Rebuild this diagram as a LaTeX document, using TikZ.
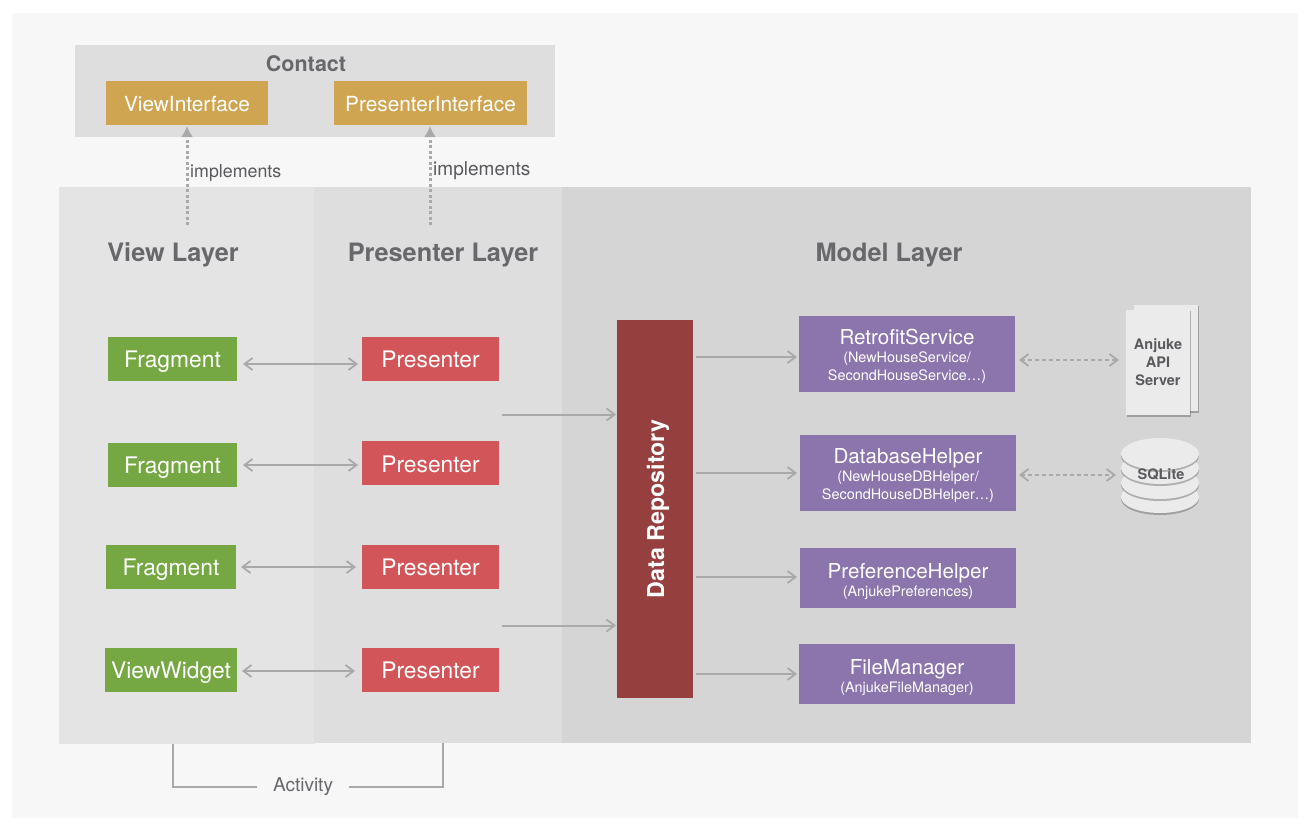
\documentclass[tikz,border=0pt]{standalone}
\usepackage{fontspec}
\setmainfont{TeX Gyre Heros}
\usetikzlibrary{arrows.meta}
\definecolor{bgc}{HTML}{F7F7F7}
\definecolor{viewc}{HTML}{E4E4E4}
\definecolor{presc}{HTML}{DEDEDE}
\definecolor{modc}{HTML}{D5D5D5}
\definecolor{greenc}{HTML}{75A842}
\definecolor{redc}{HTML}{D25659}
\definecolor{goldc}{HTML}{CFA552}
\definecolor{purplec}{HTML}{8C74AD}
\definecolor{repoc}{HTML}{963F3F}
\definecolor{linec}{HTML}{A9A9A9}
\definecolor{titlec}{HTML}{67676C}
\definecolor{labelc}{HTML}{5A5A5E}
\definecolor{pagec}{HTML}{EBEBEB}
\newcommand{\fsz}[1]{\fontsize{#1}{#1}\selectfont}
\newcommand{\bbx}[7][]{\node[#1,minimum width={(#5-#3)*1pt},minimum height={(#6-#4)*1pt}] (#2) at ({(#3+#5)/2},{(#4+#6)/2}) {#7};}
\newcommand{\ttl}[1]{\rule{0pt}{20pt}{\fsz{20.6}#1}}
\newcommand{\ttlb}[1]{\rule{0pt}{22pt}{\fsz{20.6}#1}}
\tikzset{
 x=1pt,y=-1pt,
 area/.style={rectangle,inner sep=0,outer sep=0},
 fbox/.style={area,text=white,font=\fsz{22.8},text height=16pt,text depth=0pt},
 greenbox/.style={fbox,fill=greenc},
 redbox/.style={fbox,fill=redc},
 goldbox/.style={fbox,fill=goldc,font=\fsz{20.8},text height=18pt},
 purplebox/.style={area,fill=purplec,text=white,align=center,font=\fontsize{14.4}{18}\selectfont},
 repobox/.style={area,fill=repoc,text=white},
 layertitle/.style={text=titlec,font=\bfseries\fsz{25.3},inner sep=0},
 wire/.style={draw=linec,line width=2pt,shorten >=1pt},
 onearrow/.style={wire,-{Straight Barb[length=8pt,width=12pt,line width=1.8pt]}},
 twoarrow/.style={wire,{Straight Barb[length=8pt,width=12pt,line width=1.8pt]}-{Straight Barb[length=8pt,width=12pt,line width=1.8pt]}},
 dasharrow/.style={twoarrow,dash pattern=on 4pt off 3pt},
 implarrow/.style={draw=linec,line width=3pt,dash pattern=on 3pt off 2.5pt,-{Latex[length=11pt,width=12pt]},shorten >=1pt},
 bracket/.style={draw=linec,line width=2pt},
 impltext/.style={text=labelc,font=\fsz{17.8},inner sep=0},
 page/.style={area,fill=pagec,text=labelc,align=center,font=\bfseries\fontsize{14.5}{18}\selectfont},
 pageshadow/.style={fill=black,opacity=.25},
}
\begin{document}
\begin{tikzpicture}
\useasboundingbox (0,0) rectangle (1316,832);
\fill[white] (0,0) rectangle (1316,832);
\fill[bgc] (12,13) rectangle (1298,818);
% layers
\bbx[area,fill=presc]{contact}{75}{45}{555}{137}{}
\bbx[area,fill=viewc]{viewl}{59}{187}{315}{744}{}
\bbx[area,fill=presc]{presl}{314}{187}{562}{743}{}
\bbx[area,fill=modc]{modl}{562}{187}{1251}{743}{}
\node[layertitle,font=\bfseries\fsz{21.5}] (ct) at (306,64) {Contact};
\node[layertitle] (vt) at (173,255) {View Layer};
\node[layertitle] (pt) at (443,255) {Presenter Layer};
\node[layertitle] (mt) at (889,255) {Model Layer};
% interfaces
\bbx[goldbox]{vi}{106}{81}{268}{125}{ViewInterface}
\bbx[goldbox]{pi}{334}{81}{527}{125}{PresenterInterface}
% views
\bbx[greenbox]{f1}{108}{337}{237}{381}{Fragment}
\bbx[greenbox]{f2}{108}{443}{237}{487}{Fragment}
\bbx[greenbox]{f3}{106}{545}{236}{589}{Fragment}
\bbx[greenbox]{w1}{105}{648}{237}{692}{ViewWidget}
% presenters
\bbx[redbox]{p1}{362}{337}{499}{381}{Presenter}
\bbx[redbox,text height=18pt]{p2}{362}{441}{499}{485}{Presenter}
\bbx[redbox]{p3}{362}{545}{499}{589}{Presenter}
\bbx[redbox]{p4}{362}{648}{499}{692}{Presenter}
% repository
\bbx[repobox]{repo}{617}{320}{693}{698}{}
\node[text=white,font=\bfseries\fsz{23.2},rotate=90,inner sep=0] (repotext) at ([xshift=3pt]repo.center) {Data Repository};
% services
\bbx[purplebox]{s1}{799}{316}{1015}{392}{\ttl{RetrofitService}\\(NewHouseService/\\SecondHouseService…)}
\bbx[purplebox]{s2}{800}{435}{1016}{511}{\ttl{DatabaseHelper}\\(NewHouseDBHelper/\\SecondHouseDBHelper…)}
\bbx[purplebox]{s3}{800}{548}{1016}{608}{\ttlb{PreferenceHelper}\\(AnjukePreferences)}
\bbx[purplebox]{s4}{799}{644}{1015}{704}{\ttlb{FileManager}\\(AnjukeFileManager)}
% server pages
\fill[pageshadow] (1135,306) rectangle (1199,413);
\bbx[page]{back}{1134}{305}{1198}{411}{}
\fill[pageshadow] (1127,311) rectangle (1191,417);
\bbx[page]{server}{1126}{310}{1190}{415}{Anjuke\\API\\Server}
% sqlite stack
\foreach \cy in {497,483,468,454}{
  \fill[pageshadow] (1160,\cy+2) ellipse [x radius=39,y radius=16];
  \fill[pagec] (1160,\cy) ellipse [x radius=39,y radius=16];
}
\node[text=labelc,font=\bfseries\fsz{14.5},inner sep=0] (sql) at (1161,474) {SQLite};
% connectors
\draw[implarrow] (187,225) coordinate (i1) -- (i1|-vi.south);
\draw[implarrow] (430,225) coordinate (i2) -- (i2|-pi.south);
\node[impltext,anchor=west] (im1) at (190,173) {implements};
\node[impltext,anchor=west,font=\fsz{19}] (im2) at (433,171) {implements};
\draw[twoarrow,shorten <=6pt,shorten >=4pt] ([yshift=-5pt]f1.east) -- ([yshift=-5pt]p1.west);
\draw[twoarrow,shorten <=6pt,shorten >=4pt] (f2.east) -- (f2.east-|p2.west);
\draw[twoarrow,shorten <=5pt,shorten >=6pt] (f3.east) -- (p3.west);
\draw[twoarrow,shorten <=5pt,shorten >=7pt] ([yshift=-1pt]w1.east) -- ([yshift=-1pt]p4.west);
\draw[onearrow] (502,414.5) coordinate (a1) -- (a1-|repo.west);
\draw[onearrow] (502,625.5) coordinate (a2) -- (a2-|repo.west);
\draw[onearrow,shorten <=3pt,shorten >=2pt] (repo.east|-0,357) -- (s1.west|-0,357);
\draw[onearrow,shorten <=3pt,shorten >=3pt] (repo.east|-s2.center) -- (s2.west);
\draw[onearrow,shorten <=3pt,shorten >=3pt] (repo.east|-0,577) -- (s3.west|-0,577);
\draw[onearrow,shorten <=3pt,shorten >=2pt] (repo.east|-s4.center) -- (s4.west);
\draw[dasharrow,shorten <=4pt,shorten >=7pt] (s1.east|-0,360) -- (server.west|-0,360);
\draw[dasharrow,shorten <=3pt,shorten >=5pt] (s2.east|-0,475) coordinate (d2) -- (1121,475);
\coordinate (b1) at (viewl.south-|vt);
\coordinate (b2) at (presl.south-|pt);
\node[text=titlec,font=\fsz{19},inner sep=0] (act) at (303,787) {Activity};
\draw[bracket] (b1) -- (b1|-0,787) -- (257,787);
\draw[bracket] (349,787) -- (b2|-0,787) -- (b2);
\end{tikzpicture}
\end{document}
